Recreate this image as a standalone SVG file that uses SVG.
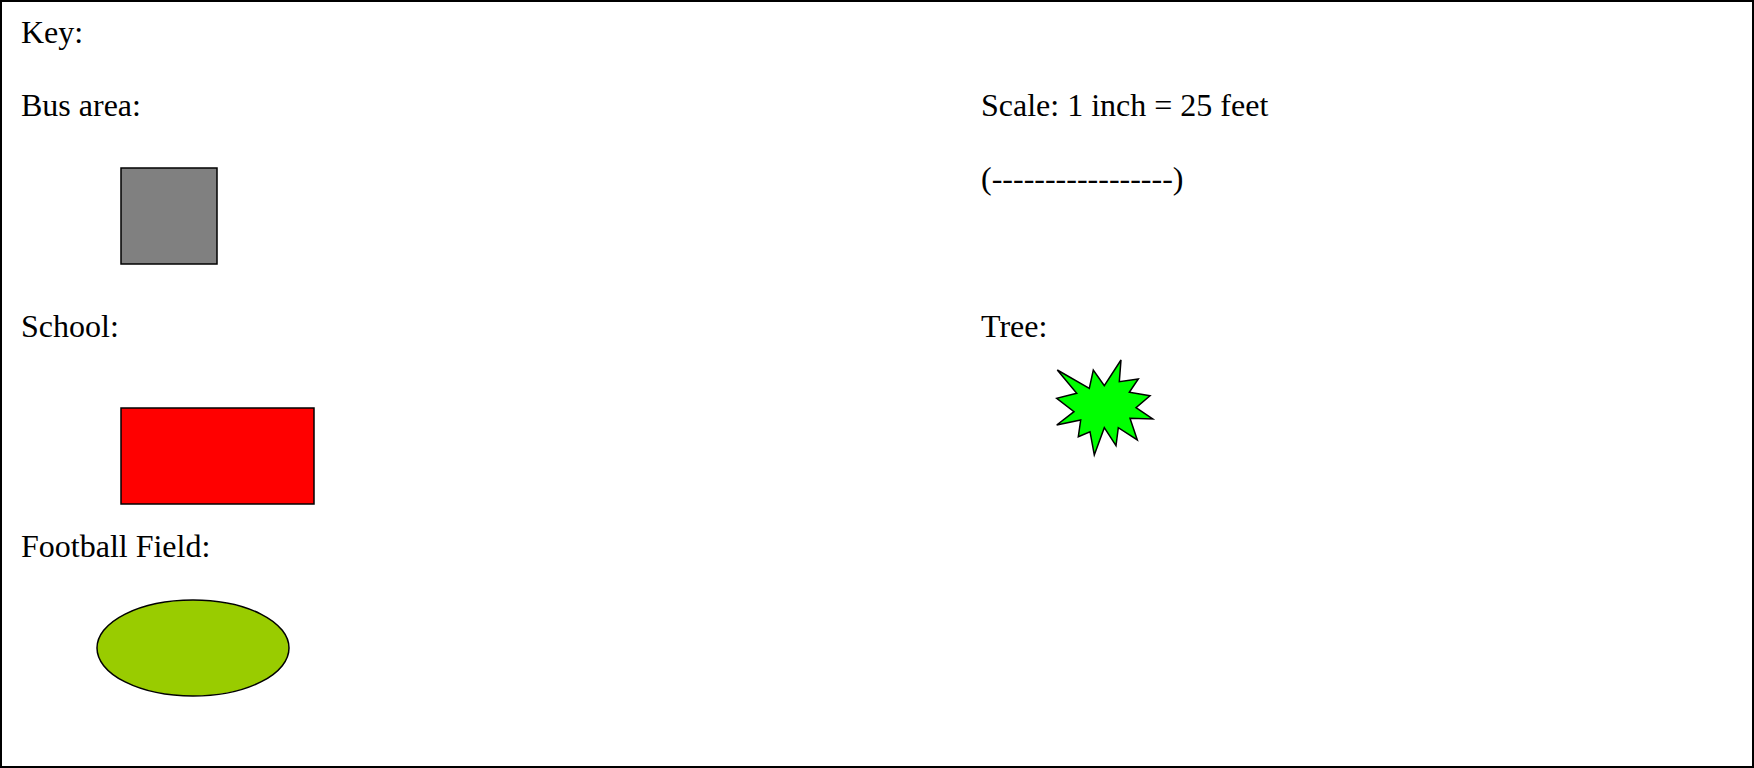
<svg xmlns="http://www.w3.org/2000/svg" width="1754" height="768" viewBox="0 0 1754 768">
<style>
text{font-family:"Liberation Serif","Times New Roman",serif;font-size:32px;fill:#000}
.shape{stroke:#000;stroke-width:1.5}
</style>
<rect x="1" y="1" width="1752" height="766" fill="#fff" stroke="#000" stroke-width="2"/>
<g id="key-label"><text x="21" y="43">Key:</text></g>
<g id="bus-area">
<text x="21" y="116">Bus area:</text>
<rect class="shape" x="121" y="168" width="96" height="96" fill="#808080"/>
</g>
<g id="school">
<text x="21" y="337">School:</text>
<rect class="shape" x="121" y="408" width="193" height="96" fill="#ff0000"/>
</g>
<g id="football-field">
<text x="21" y="557">Football Field:</text>
<ellipse class="shape" cx="193" cy="648" rx="96" ry="48" fill="#99cc00"/>
</g>
<g id="scale">
<text x="981" y="116">Scale: 1 inch = 25 feet</text>
<text x="981" y="189">(-----------------)</text>
</g>
<g id="tree">
<text x="981" y="337">Tree:</text>
<polygon class="shape" fill="#00ff00" points="1057.3,370 1089.3,388.3 1093.3,370 1104.3,385.7 1121,360 1119.3,381.7 1138.3,379 1129.3,392.3 1150,395.7 1136,407.7 1152.7,419 1130,418.3 1137.3,440 1118.3,427.7 1116,445.7 1104.3,427.7 1094.3,455 1090,431.7 1078.3,436.7 1080.7,420 1056.7,425 1074,411.7 1056.7,398.3 1076.7,393.3"/>
</g>
<g id="connectors"></g>
</svg>
